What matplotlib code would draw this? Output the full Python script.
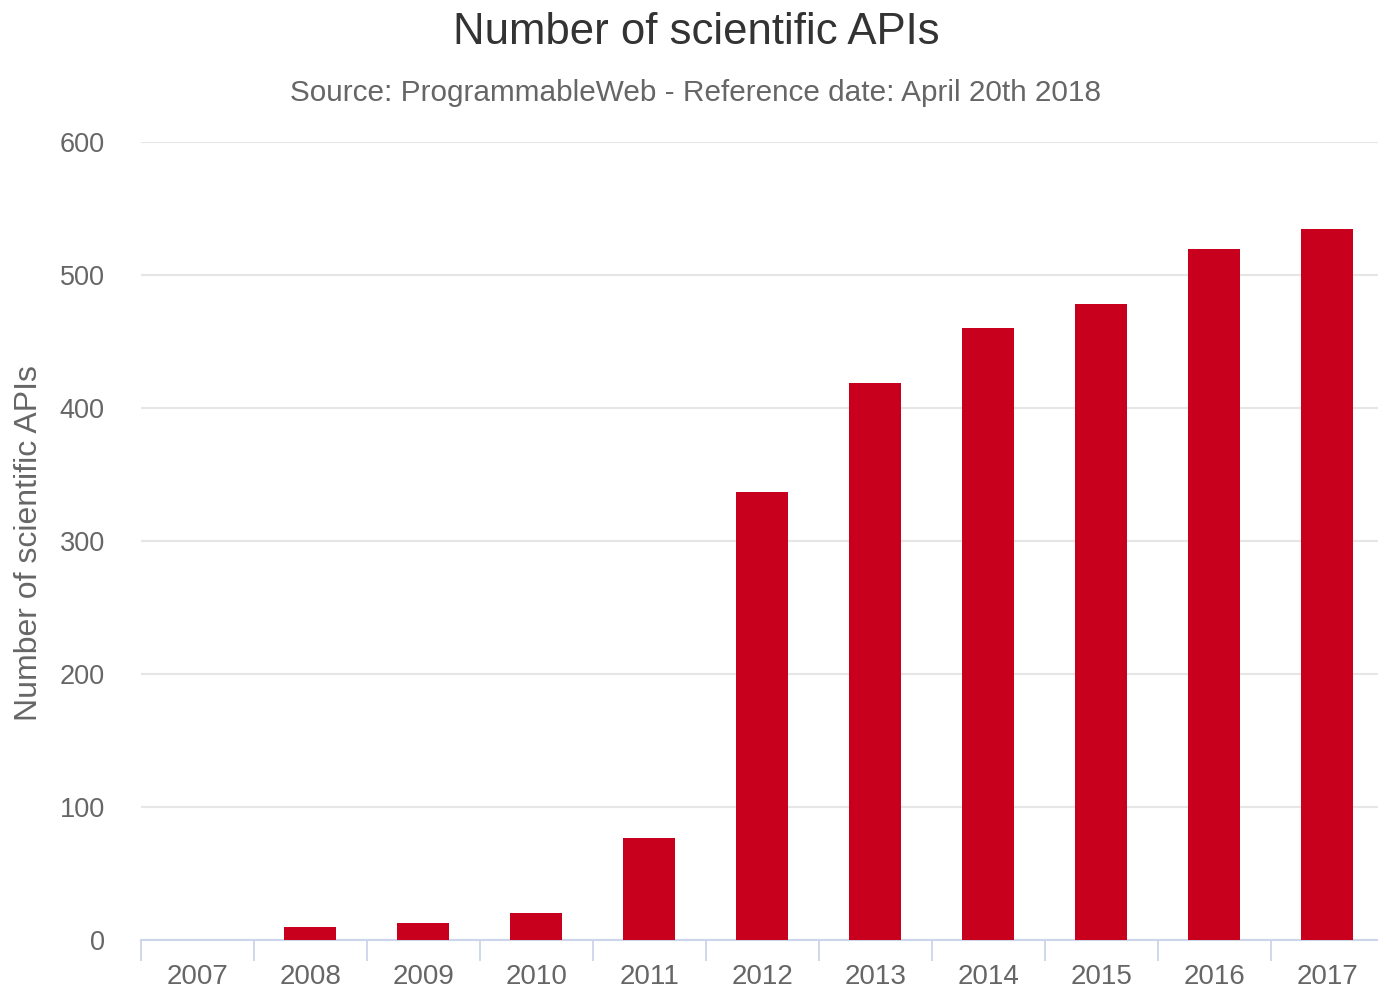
import matplotlib.pyplot as plt
import numpy as np

plt.rcParams['font.family'] = ['Liberation Sans', 'DejaVu Sans']

years = ['2007', '2008', '2009', '2010', '2011', '2012',
         '2013', '2014', '2015', '2016', '2017']
apis = [0, 10, 13, 20, 77, 337, 419, 460, 478, 520, 535]
y_ticks = [0, 100, 200, 300, 400, 500, 600]

fig = plt.figure(figsize=(13.78, 9.94), dpi=100)
ax = fig.add_axes([0.1023, 0.0543, 0.902, 0.8027])

x = np.arange(len(years))
ax.bar(x, apis, width=0.46, color='#c8001e', zorder=3)

ax.set_xlim(-0.5, len(years) - 0.5)
ax.set_ylim(0, 600)

# grid
ax.set_yticks(y_ticks)
ax.yaxis.grid(True, color='#e6e6e6', linewidth=1.5, zorder=0)
ax.tick_params(axis='y', length=0, pad=26, labelsize=19.5, labelcolor='#666666')

# category ticks sit between the bars
ax.set_xticks(x)
ax.set_xticklabels(years)
ax.set_xticks(np.arange(-0.5, len(years), 1), minor=True)
ax.tick_params(axis='x', which='major', length=0, pad=17, labelsize=20, labelcolor='#666666')
ax.tick_params(axis='x', which='minor', length=15, width=1.3, color='#ccd6eb')

for s in ['top', 'right', 'left']:
    ax.spines[s].set_visible(False)
ax.spines['bottom'].set_color('#ccd6eb')
ax.spines['bottom'].set_linewidth(1.5)

fig.text(29 / 1378, 1 - 543 / 994, 'Number of scientific APIs', rotation=90,
         ha='center', va='center', fontsize=23, color='#666666')

fig.text(0.505, 0.967, 'Number of scientific APIs', ha='center', va='center',
         fontsize=31.5, color='#333333')
fig.text(0.505, 0.906, 'Source: ProgrammableWeb - Reference date: April 20th 2018',
         ha='center', va='center', fontsize=21.4, color='#666666')

fig.savefig('out.png', dpi=100)
